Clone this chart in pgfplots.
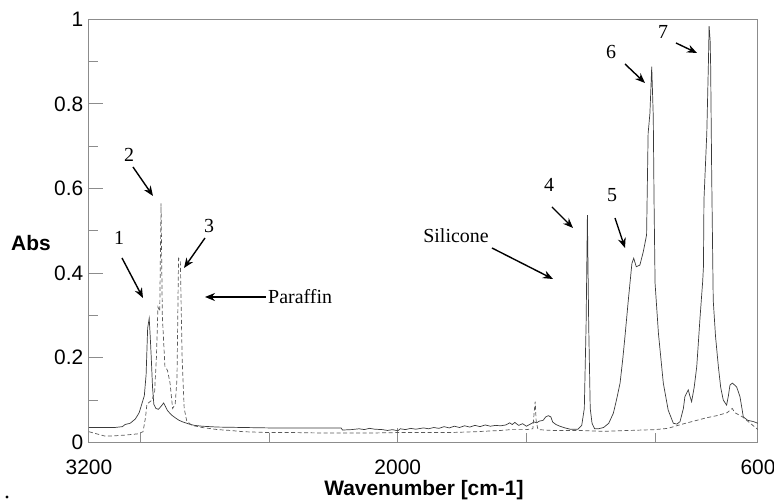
\documentclass[border=0pt]{standalone}
\usepackage{pgfplots}
\pgfplotsset{compat=1.18}
\usepackage{fontspec}
\setmainfont{Liberation Sans}
\newfontfamily\tnr{Liberation Serif}
\usetikzlibrary{arrows.meta}
\definecolor{axgray}{HTML}{8C8C8C}
\definecolor{solidc}{HTML}{3A3A3A}
\definecolor{dashc}{HTML}{5A5A5A}
\begin{document}
\begin{tikzpicture}
\path[use as bounding box] (-89bp,-59.7bp) rectangle (685bp,442.3bp);
\begin{axis}[
  at={(0,0)}, anchor=south west,
  scale only axis, width=669bp, height=423bp,
  x dir=reverse, xmin=600, xmax=3200, ymin=0, ymax=1,
  xtick={3200,2000,600}, minor xtick={3000,2500,1500,1000},
  ytick={0,0.2,0.4,0.6,0.8,1}, minor ytick={0.1,0.3,0.5,0.7,0.9},
  tick pos=left,
  tick align=inside, major tick length=14bp, minor tick length=9bp,
  axis line style={axgray, line width=1bp},
  tick style={axgray, line width=1bp},
  minor tick style={axgray, line width=1bp},
  /pgf/number format/assume math mode=true,
  /pgf/number format/1000 sep={},
  tick label style={font=\fontsize{21}{21}\selectfont},
  xticklabel style={anchor=north, inner sep=0pt, yshift=-17bp},
  yticklabel style={anchor=east, inner sep=0pt, xshift=-5.5bp},
  xlabel={\bfseries Wavenumber [cm-1]},
  ylabel={\bfseries Abs},
  every axis x label/.style={at={(axis description cs:0.5007,-0.114)}, anchor=center, font=\fontsize{21}{21}\selectfont},
  every axis y label/.style={at={(axis description cs:-0.0867,0.471)}, anchor=center, font=\fontsize{21}{21}\selectfont},
  clip=true,
]
\addplot[solidc, line width=0.7bp] coordinates {
(3200,0.035) (3150,0.035) (3100,0.035) (3070,0.037) (3060,0.042) (3040,0.045) (3020,0.055) (3005,0.07)
(2995,0.09) (2985,0.11) (2978,0.16) (2972,0.27) (2966,0.293) (2962,0.25) (2958,0.2) (2953,0.13)
(2948,0.09) (2940,0.08) (2930,0.078) (2920,0.085) (2910,0.093) (2903,0.085) (2895,0.075) (2880,0.065)
(2865,0.058) (2850,0.052) (2835,0.048) (2810,0.043) (2790,0.04) (2760,0.038) (2700,0.036) (2600,0.035)
(2500,0.034) (2450,0.034) (2300,0.034) (2220,0.034) (2215,0.029) (2180,0.03) (2150,0.032) (2130,0.03)
(2110,0.033) (2090,0.031) (2060,0.03) (2040,0.028) (2020,0.03) (2000,0.027) (1990,0.032) (1970,0.03)
(1950,0.033) (1930,0.031) (1900,0.034) (1880,0.032) (1860,0.035) (1840,0.033) (1820,0.037) (1800,0.034)
(1780,0.038) (1760,0.035) (1740,0.039) (1720,0.036) (1700,0.04) (1680,0.037) (1660,0.041) (1640,0.038)
(1620,0.04) (1600,0.039) (1580,0.041) (1565,0.046) (1555,0.042) (1545,0.047) (1530,0.04) (1515,0.044)
(1500,0.038) (1485,0.043) (1470,0.048) (1460,0.046) (1450,0.05) (1435,0.052) (1425,0.06) (1415,0.063)
(1405,0.06) (1398,0.048) (1385,0.042) (1370,0.038) (1350,0.034) (1330,0.031) (1300,0.031) (1285,0.04)
(1275,0.08) (1268,0.28) (1263,0.537) (1258,0.28) (1252,0.08) (1245,0.045) (1235,0.032) (1220,0.032)
(1200,0.035) (1180,0.045) (1162,0.069) (1150,0.1) (1136,0.14) (1125,0.2) (1117,0.25) (1104,0.336)
(1090,0.423) (1083,0.435) (1073,0.415) (1059,0.419) (1046,0.45) (1033,0.49) (1027,0.73) (1020,0.778)
(1013,0.888) (1007,0.77) (1004,0.573) (1000,0.376) (987,0.258) (968,0.14) (949,0.076) (929,0.045)
(915,0.043) (903,0.049) (890,0.08) (884,0.108) (871,0.124) (865,0.11) (858,0.096) (848,0.13)
(838,0.179) (825,0.297) (815,0.38) (812,0.415) (810,0.573) (799,0.73) (793,0.888) (790,0.984)
(786,0.95) (784,0.89) (780,0.636) (774,0.336) (765,0.25) (754,0.179) (745,0.13) (735,0.1)
(722,0.088) (715,0.11) (709,0.135) (700,0.14) (690,0.135) (683,0.131) (670,0.108) (657,0.06)
(640,0.052) (618,0.049) (600,0.045)
};
\addplot[dashc, line width=0.7bp, dash pattern=on 4bp off 2.5bp] coordinates {
(3200,0.025) (3170,0.02) (3140,0.015) (3110,0.015) (3060,0.017) (3010,0.02) (2990,0.025) (2980,0.06)
(2975,0.09) (2965,0.095) (2955,0.1) (2945,0.12) (2938,0.2) (2932,0.32) (2925,0.31) (2920,0.565)
(2915,0.3) (2905,0.18) (2895,0.17) (2885,0.14) (2875,0.08) (2865,0.09) (2858,0.15) (2852,0.435)
(2845,0.43) (2838,0.2) (2830,0.08) (2820,0.05) (2800,0.04) (2760,0.035) (2700,0.03) (2650,0.028)
(2600,0.025) (2500,0.023) (2400,0.023) (2300,0.022) (2200,0.022) (2100,0.022) (2000,0.023) (1900,0.023)
(1800,0.023) (1700,0.025) (1600,0.028) (1560,0.03) (1500,0.03) (1475,0.032) (1470,0.07) (1466,0.096)
(1462,0.05) (1455,0.03) (1400,0.028) (1300,0.028) (1200,0.026) (1100,0.028) (1000,0.03) (950,0.033)
(900,0.042) (850,0.05) (800,0.058) (760,0.063) (720,0.07) (700,0.08) (690,0.07) (660,0.06)
(630,0.045) (600,0.03)
};
\end{axis}
\begin{scope}[shift={(-89bp,442.3bp)}, x=1bp, y=-1bp, font=\tnr\fontsize{20}{20}\selectfont]
\tikzset{arr/.style={-{Stealth[length=10bp,width=8bp]}, line width=1.4bp, black}}
\node at (119,238) {1};
\draw[arr] (122,258) -- (143,298);
\node at (129,155) {2};
\draw[arr] (133,167) -- (153,196);
\node at (209,226) {3};
\draw[arr] (205,238) -- (184,268);
\node[anchor=west, inner sep=0pt] at (268,297) {Paraffin};
\draw[arr] (266,297) -- (205,297);
\node at (456,236) {Silicone};
\draw[arr] (492,248) -- (553,279);
\node at (549,185) {4};
\draw[arr] (552,207) -- (573,228);
\node at (612,195) {5};
\draw[arr] (615,218) -- (625,248);
\node at (611,52) {6};
\draw[arr] (625,64) -- (645,83);
\node at (663,32) {7};
\draw[arr] (676,43) -- (697,53);
\fill (7,497) circle (1.6bp);
\end{scope}
\end{tikzpicture}
\end{document}
